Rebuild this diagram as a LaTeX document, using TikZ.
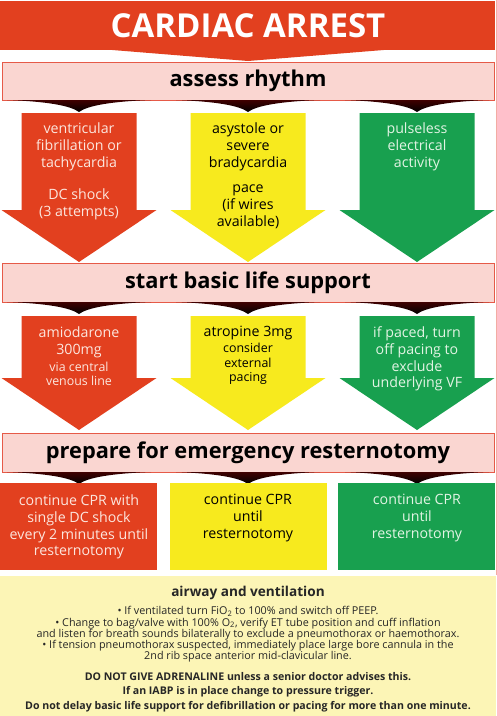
\documentclass[tikz,border=0pt]{standalone}
\usepackage{fontspec}
\setmainfont{Open Sans}
\definecolor{cred}{HTML}{E2401F}
\definecolor{cyel}{HTML}{F7EA1E}
\definecolor{cgrn}{HTML}{18A04F}
\definecolor{cpink}{HTML}{FAD6D1}
\definecolor{cpinkline}{HTML}{E65A48}
\definecolor{cpale}{HTML}{FCF5B6}
\definecolor{redtxt}{HTML}{FCE6DE}
\definecolor{grntxt}{HTML}{E2F4E4}
\newcommand\dnarrow[6]{% colour, cx, top, headstart, apex, (unused)
  \fill[#1] ({#2-57.5},#3) -- ({#2+57.5},#3) -- ({#2+57.5},#4) -- ({#2+77.5},#4)
    -- (#2,#5) -- ({#2-77.5},#4) -- ({#2-57.5},#4) -- cycle;}
\newcommand\shadowwedge[2]{% cx, band bottom
  \shade[top color=black!75!red, bottom color=black]
    ({#1-72},#2) .. controls ({#1-30},{#2+1.5}) and ({#1-8},{#2+6}) .. (#1,{#2+12})
    .. controls ({#1+8},{#2+6}) and ({#1+30},{#2+1.5}) .. ({#1+72},#2) -- cycle;}
\tikzset{
  band/.style={draw=cpinkline, line width=1pt, fill=cpink, minimum width=492pt,
    inner sep=0pt, font=\bfseries\fontsize{21.8}{24}\selectfont, text=black},
  redt/.style={align=center, text=redtxt, inner sep=0pt, font=\fontsize{14.2}{16.8}\selectfont},
  yelt/.style={align=center, text=black, inner sep=0pt, font=\fontsize{14.2}{16.8}\selectfont},
  grnt/.style={align=center, text=grntxt, inner sep=0pt, font=\fontsize{14.2}{16.8}\selectfont},
  smallt/.style={font=\fontsize{12.4}{14.5}\selectfont},
  notet/.style={align=center, text=black!85, inner sep=0pt, font=\fontsize{10.8}{11.3}\selectfont},
  noteb/.style={notet, font=\bfseries\fontsize{10.6}{12}\selectfont}
}
\begin{document}
\begin{tikzpicture}[x=1pt,y=-1pt]
\useasboundingbox (0,0) rectangle (497,716);
\fill[white] (0,0) rectangle (497,716);
% title banner
\fill[cred] (0,1) rectangle (495,50);
\fill[cred] (100,49) -- (396,49) -- (248,61) -- cycle;
\node[text=white, font=\bfseries\fontsize{33}{36}\selectfont, inner sep=0pt] (title) at (248,26) {CARDIAC ARREST};
% right edge line
\draw[cpinkline!50, line width=1pt] (496,0) -- (496,575);
% band 1
\node[band, minimum height=38pt] (b1) at (248,81) {assess rhythm};
\shadowwedge{79}{100}\shadowwedge{248}{100}\shadowwedge{417}{100}
% row 1 arrows
\dnarrow{cred}{79}{113}{210}{262}{}
\dnarrow{cyel}{248}{113}{210}{262}{}
\dnarrow{cgrn}{417}{113}{210}{262}{}
\node[redt] (r1a) at (79,147) {ventricular\\fibrillation or\\tachycardia};
\node[redt] (r1b) at (79,204) {DC shock\\(3 attempts)};
\node[yelt] (y1a) at (248,147) {asystole or\\severe\\bradycardia};
\node[yelt] (y1b) at (248,207) {pace\\(if wires\\available)};
\node[grnt] (g1a) at (417,147) {pulseless\\electrical\\activity};
% band 2
\node[band, minimum height=39pt] (b2) at (248,282.5) {start basic life support};
\shadowwedge{79}{302}\shadowwedge{248}{302}\shadowwedge{417}{302}
% row 2 arrows
\dnarrow{cred}{79}{316}{378}{430}{}
\dnarrow{cyel}{248}{316}{378}{430}{}
\dnarrow{cgrn}{417}{316}{378}{430}{}
\node[redt] (r2a) at (79,342) {amiodarone\\300mg};
\node[redt, smallt] (r2b) at (79,374) {via central\\venous line};
\node[yelt] (y2a) at (248,333) {atropine 3mg};
\node[yelt, smallt] (y2b) at (248,364) {consider\\external\\pacing};
\node[grnt] (g2a) at (417,359) {if paced, turn\\off pacing to\\exclude\\underlying VF};
% band 3
\node[band, minimum height=39pt] (b3) at (248,452.5) {prepare for emergency resternotomy};
\shadowwedge{79}{472}\shadowwedge{248}{472}\shadowwedge{417}{472}
% row 3 boxes
\fill[cred] (0,483) rectangle (157,570);
\fill[cyel] (170,483) rectangle (327,570);
\fill[cgrn] (338,483) rectangle (495,570);
\node[redt] (r3) at (79,527) {continue CPR with\\single DC shock\\every 2 minutes until\\resternotomy};
\node[yelt] (y3) at (248,518) {continue CPR\\until\\resternotomy};
\node[grnt] (g3) at (417,518) {continue CPR\\until\\resternotomy};
% bottom note
\fill[cpale] (0,576) rectangle (496,716);
\node[notet, font=\bfseries\fontsize{13.6}{15}\selectfont] (nt) at (248,593) {airway and ventilation};
\node[notet] (nb) at (248,634.5) {• If ventilated turn FiO\textsubscript{2} to 100\% and switch off PEEP.\\
• Change to bag/valve with 100\% O\textsubscript{2}, verify ET tube position and cuff inflation\\
and listen for breath sounds bilaterally to exclude a pneumothorax or haemothorax.\\
• If tension pneumothorax suspected, immediately place large bore cannula in the\\
2nd rib space anterior mid-clavicular line.};
\node[noteb] (n1) at (248,677) {DO NOT GIVE ADRENALINE unless a senior doctor advises this.};
\node[noteb] (n2) at (248,692) {If an IABP is in place change to pressure trigger.};
\node[noteb] (n3) at (248,707) {Do not delay basic life support for defibrillation or pacing for more than one minute.};
\end{tikzpicture}
\end{document}
